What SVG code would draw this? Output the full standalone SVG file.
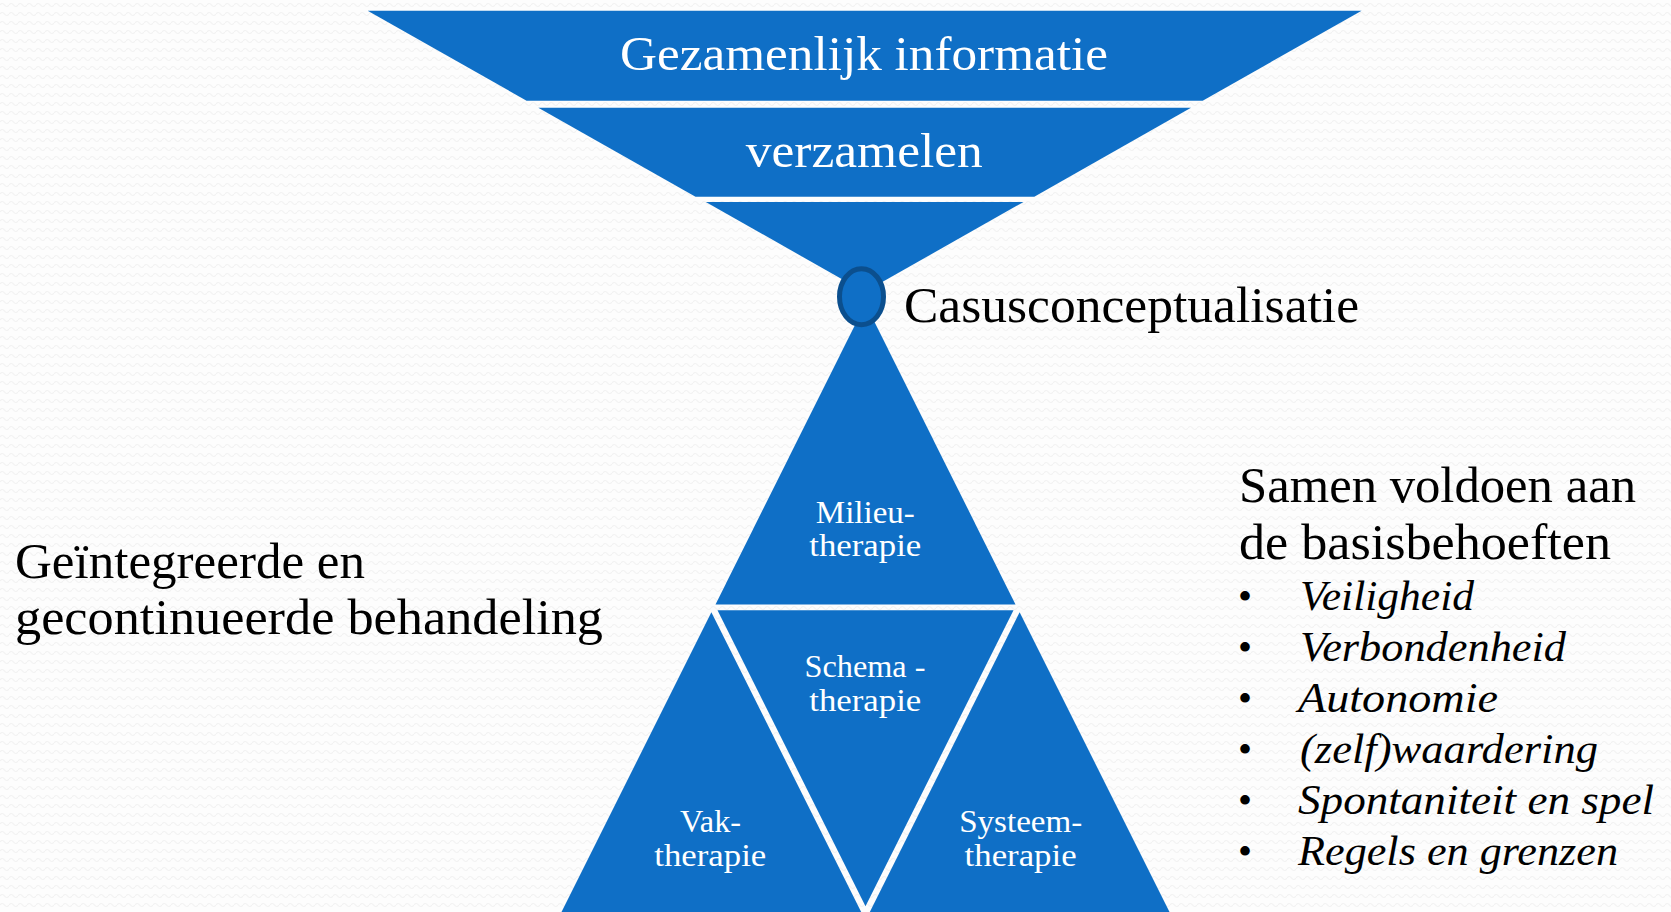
<svg xmlns="http://www.w3.org/2000/svg" width="1671" height="912" viewBox="0 0 1671 912">
<defs>
<pattern id="bgwave" width="9" height="9" patternUnits="userSpaceOnUse">
<rect width="9" height="9" fill="#fdfdfd"/>
<path d="M0 5 Q2.25 2 4.5 5 T9 5" fill="none" stroke="#f2f2f2" stroke-width="1.2"/>
</pattern>
<style>
.blue{fill:#0F6FC6;}
.wt{fill:#ffffff;font-family:"Liberation Serif","Times New Roman",serif;text-anchor:middle;}
.big{font-size:48px;}
.tri{font-size:32px;}
.bk{fill:#000000;font-family:"Liberation Serif","Times New Roman",serif;}
.it{font-style:italic;font-size:42px;}
</style>
</defs>
<rect width="1671" height="912" fill="url(#bgwave)"/>

<g id="funnel-band-1">
<polygon class="blue" points="367.7,10.7 1361.6,10.7 1202.7,100.7 526.6,100.7"/>
<text class="wt big" x="864" y="70" textLength="488" lengthAdjust="spacingAndGlyphs">Gezamenlijk informatie</text>
</g>
<g id="funnel-band-2">
<polygon class="blue" points="538.3,107.7 1191,107.7 1034.3,196.7 695.5,196.7"/>
<text class="wt big" x="864.3" y="167" textLength="237" lengthAdjust="spacingAndGlyphs">verzamelen</text>
</g>
<g id="funnel-band-3">
<polygon class="blue" points="705.8,202 1023.5,202 864.6,292"/>
</g>

<g id="lower-milieu">
<polygon class="blue" points="865.5,304 1015.5,604.4 715.5,604.4"/>
<text class="wt tri" x="865.3" y="522.5" textLength="99" lengthAdjust="spacingAndGlyphs">Milieu-</text>
<text class="wt tri" x="865.3" y="556" textLength="112" lengthAdjust="spacingAndGlyphs">therapie</text>
</g>
<g id="lower-schema">
<polygon class="blue" points="717.5,610.3 1013.5,610.3 865.5,906.3"/>
<text class="wt tri" x="865" y="677" textLength="121" lengthAdjust="spacingAndGlyphs">Schema -</text>
<text class="wt tri" x="865.3" y="711" textLength="112" lengthAdjust="spacingAndGlyphs">therapie</text>
</g>
<g id="lower-vak">
<polygon class="blue" points="711.35,612.3 861.2,912 561.5,912"/>
<text class="wt tri" x="710.6" y="832" textLength="61" lengthAdjust="spacingAndGlyphs">Vak-</text>
<text class="wt tri" x="710.3" y="866" textLength="112" lengthAdjust="spacingAndGlyphs">therapie</text>
</g>
<g id="lower-systeem">
<polygon class="blue" points="1019.65,612.3 1169.5,912 869.8,912"/>
<text class="wt tri" x="1020.7" y="832" textLength="123" lengthAdjust="spacingAndGlyphs">Systeem-</text>
<text class="wt tri" x="1020.6" y="866" textLength="112" lengthAdjust="spacingAndGlyphs">therapie</text>
</g>

<g id="casusconceptualisatie">
<ellipse cx="861.5" cy="296.7" rx="22" ry="28" fill="#0F6FC6" stroke="#0B4F8E" stroke-width="5"/>
<text class="bk" x="904" y="321.5" font-size="50" textLength="455" lengthAdjust="spacingAndGlyphs">Casusconceptualisatie</text>
</g>

<g id="connectors"></g>

<g id="left-text">
<text class="bk" x="15" y="577.7" font-size="50" textLength="350" lengthAdjust="spacingAndGlyphs">Geïntegreerde en</text>
<text class="bk" x="15" y="634" font-size="50" textLength="588" lengthAdjust="spacingAndGlyphs">gecontinueerde behandeling</text>
</g>

<g id="right-text">
<text class="bk" x="1239" y="501.7" font-size="50" textLength="397" lengthAdjust="spacingAndGlyphs">Samen voldoen aan</text>
<text class="bk" x="1239" y="558.5" font-size="50" textLength="372" lengthAdjust="spacingAndGlyphs">de basisbehoeften</text>
<g font-size="40">
<text class="bk" x="1238" y="610">•</text>
<text class="bk" x="1238" y="661">•</text>
<text class="bk" x="1238" y="712">•</text>
<text class="bk" x="1238" y="763">•</text>
<text class="bk" x="1238" y="814">•</text>
<text class="bk" x="1238" y="865">•</text>
</g>
<text class="bk it" x="1300" y="610" textLength="174" lengthAdjust="spacingAndGlyphs">Veiligheid</text>
<text class="bk it" x="1300" y="661" textLength="266" lengthAdjust="spacingAndGlyphs">Verbondenheid</text>
<text class="bk it" x="1298" y="712" textLength="200" lengthAdjust="spacingAndGlyphs">Autonomie</text>
<text class="bk it" x="1300" y="763" textLength="298" lengthAdjust="spacingAndGlyphs">(zelf)waardering</text>
<text class="bk it" x="1298" y="814" textLength="356" lengthAdjust="spacingAndGlyphs">Spontaniteit en spel</text>
<text class="bk it" x="1298" y="865" textLength="320" lengthAdjust="spacingAndGlyphs">Regels en grenzen</text>
</g>
</svg>
